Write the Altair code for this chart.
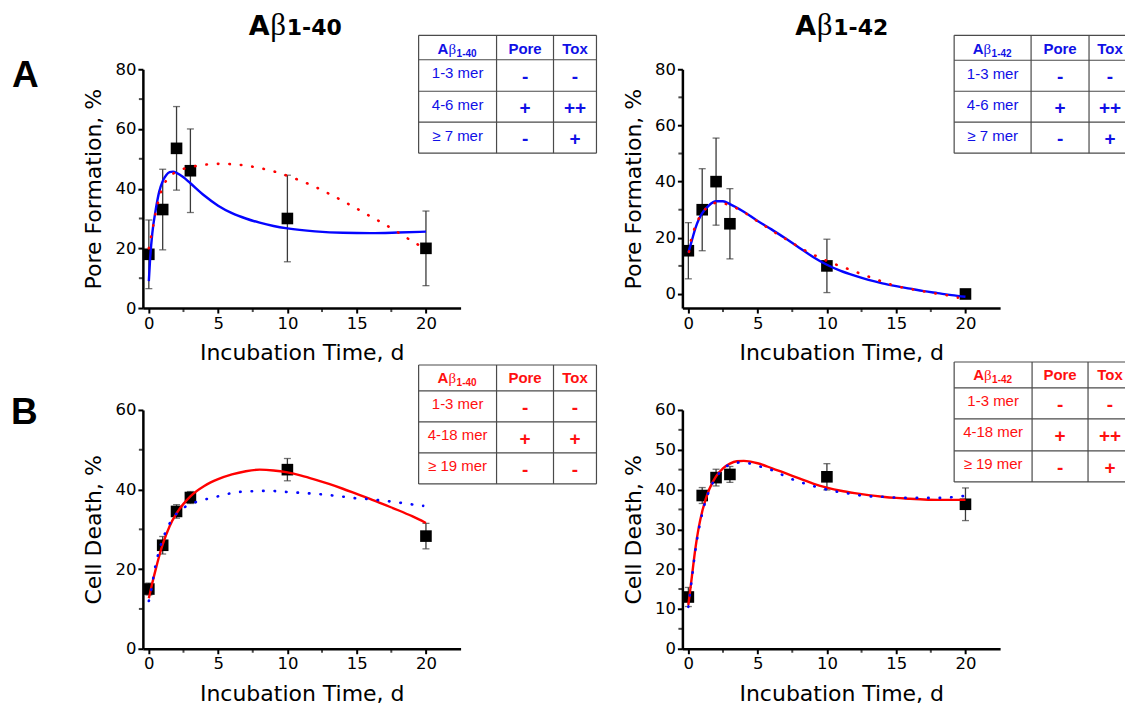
import altair as alt
import pandas as pd

# ---------------- data ----------------
days = [0, 1, 2, 3, 10, 20]

pore40_mean = [18.0, 33.0, 53.5, 46.0, 30.0, 20.0]
pore40_err = [11.5, 13.5, 14.0, 14.0, 14.5, 12.5]
pore42_mean = [15.4, 30.0, 40.0, 25.0, 10.0, 0.0]
pore42_err = [10.0, 14.6, 15.5, 12.5, 9.5, 0.0]
death40_mean = [15.0, 26.0, 34.5, 38.0, 45.0, 28.3]
death40_err = [1.5, 2.2, 1.7, 1.5, 2.8, 3.2]
death42_mean = [13.0, 38.5, 43.0, 43.8, 43.2, 36.3]
death42_err = [2.4, 2.0, 2.1, 2.0, 3.3, 4.1]

pore40_fit_t = [0, 0.1, 0.25, 0.5, 0.75, 1, 1.25, 1.5, 1.75, 2, 2.5, 3, 4, 5, 6, 7, 8, 9, 10, 12, 14, 16, 18, 20]
pore40_fit_y = [9, 17, 25, 33, 39, 42.5, 44.5, 45.5, 45.7, 45.3, 43.8, 41.8, 37.7, 34.3, 31.8, 30, 28.6, 27.5, 26.7, 25.7, 25.2, 25.1, 25.3, 25.6]
pore40_alt_t = [0, 0.25, 0.5, 0.75, 1, 1.5, 2, 3, 4, 5, 6, 7, 8, 9, 10, 11, 12, 13, 14, 15, 16, 17, 18, 19, 19.8]
pore40_alt_y = [20, 26, 32, 37, 40.5, 44, 45.7, 47.2, 48, 48.3, 48.2, 47.7, 46.9, 45.8, 44.3, 42.6, 40.6, 38.3, 35.9, 33.3, 30.7, 28.1, 25.3, 22.4, 20.2]

pore42_fit_t = [0, 0.25, 0.5, 0.75, 1, 1.5, 2, 2.5, 3, 4, 5, 6, 7, 8, 9, 10, 11, 12, 13, 14, 15, 16, 17, 18, 19, 20]
pore42_fit_y = [14.7, 19, 23.3, 26.5, 28.8, 31.6, 33, 33, 32, 29.3, 26, 23, 19.8, 16.5, 13.2, 10.4, 8.2, 6.5, 5, 3.8, 2.8, 1.9, 1.0, 0.3, -0.4, -1.0]
pore42_alt_t = [0.05, 0.18, 0.4, 0.8, 1.4, 2.2, 3.1, 3.95, 4.8, 5.65, 6.5, 7.4, 8.2, 9.1, 9.95, 10.85, 11.7, 12.6, 13.45, 14.3, 15.2, 16, 16.9, 17.8, 18.6, 19.45]
pore42_alt_y = [15, 18.9, 22.7, 27.3, 31, 32.6, 31.3, 29.3, 26.5, 23.8, 21.1, 18.5, 16.1, 13.8, 11.9, 10.1, 8.6, 6.9, 5.4, 3.9, 2.6, 1.8, 1.0, 0.2, -0.4, -1.3]

death40_fit_t = [0, 0.25, 0.5, 0.75, 1, 1.5, 2, 2.5, 3, 4, 5, 6, 7, 8, 9, 10, 11, 12, 13, 14, 15, 16, 17, 18, 19, 20]
death40_fit_y = [12.7, 16.5, 20, 23.3, 26.2, 30.8, 34, 36.4, 38.3, 40.9, 42.6, 43.8, 44.6, 45, 44.8, 44.3, 43.5, 42.5, 41.4, 40.2, 38.9, 37.6, 36.2, 34.8, 33.3, 31.6]
death40_alt_t = [0, 0.2, 0.4, 0.8, 1.2, 1.8, 2.6, 3.5, 4.4, 5.25, 6.1, 6.9, 7.8, 8.65, 9.5, 10.4, 11.3, 12.1, 13, 13.8, 14.65, 15.5, 16.4, 17.2, 18.1, 18.9, 19.8]
death40_alt_y = [12, 15.2, 19.5, 25.3, 29.3, 33.1, 35.6, 37, 37.8, 38.5, 39.2, 39.5, 39.6, 39.7, 39.5, 39.3, 39.1, 38.9, 38.6, 38.3, 37.9, 37.7, 37.4, 37.1, 36.7, 36.3, 35.9]

death42_fit_t = [0, 0.25, 0.5, 0.75, 1, 1.5, 2, 2.5, 3, 3.5, 4, 4.5, 5, 6, 7, 8, 9, 10, 11, 12, 13, 14, 15, 16, 17, 18, 19, 20]
death42_fit_y = [11, 18, 25, 30.5, 34.5, 40, 43.3, 45.3, 46.5, 47.1, 47.2, 47, 46.6, 45.4, 44.1, 42.8, 41.5, 40.5, 39.7, 39.1, 38.6, 38.2, 37.9, 37.7, 37.5, 37.4, 37.4, 37.4]
death42_alt_t = [0, 0.25, 0.5, 1, 1.5, 2, 3, 3.75, 4.5, 5.35, 6.25, 7.05, 7.9, 8.8, 9.65, 10.5, 11.4, 12.25, 13.1, 14, 14.85, 15.7, 16.5, 17.4, 18.25, 19.1, 19.95]
death42_alt_y = [10.5, 17.5, 24.5, 34, 39.7, 43, 46.3, 46.8, 46.5, 45.6, 44.6, 43.2, 42.1, 41.1, 40.3, 39.6, 39.1, 38.6, 38.3, 38.2, 38, 37.9, 37.9, 37.9, 37.9, 38.1, 38.4]

x_major = [0, 5, 10, 15, 20]
x_minor = [2.5, 7.5, 12.5, 17.5]

col_heads = ["Pore", "Tox"]
rows_pore = ["1-3 mer", "4-6 mer", "\u2265 7 mer"]
rows_tox = ["1-3 mer", "4-18 mer", "\u2265 19 mer"]
syms_pore40_pore = ["-", "+", "-"]
syms_pore40_tox = ["-", "++", "+"]
syms_pore42_pore = ["-", "+", "-"]
syms_pore42_tox = ["-", "++", "+"]
syms_death40_pore = ["-", "+", "-"]
syms_death40_tox = ["-", "+", "-"]
syms_death42_pore = ["-", "+", "-"]
syms_death42_tox = ["-", "++", "+"]

# ---------------- style / layout ----------------
SANS = "Liberation Sans"
WIDE = "DejaVu Sans"
SERIF = "Liberation Serif"
TXT_BLUE = "#1010e6"
TXT_RED = "#ff1010"
LINE_BLUE = "#0505ff"
LINE_RED = "#ff0000"
GRID = "#4a4a4a"
ERR = "#3a3a3a"
W, H = 318, 239
X_DOMAIN = [-0.43, 22.5]


def one():
    return pd.DataFrame({"k": [0]})


def text_layer(df, size, weight, color, font=SANS, align="center"):
    return alt.Chart(df).mark_text(
        font=font, fontSize=size, fontWeight=weight, color=color,
        align=align, baseline="alphabetic"
    ).encode(
        x=alt.X("px:Q", scale=None),
        y=alt.Y("py:Q", scale=None),
        text="s:N",
    )


def table(xe, ye, tox_c, closed, color, sub, row_labels, pore_syms, tox_syms):
    x0, x1, x2, x3 = xe
    hl = pd.DataFrame({"a": [x0] * len(ye), "b": [x3] * len(ye), "y": ye})
    vx = [x0, x1, x2] + ([x3] if closed else [])
    vl = pd.DataFrame({"x": vx, "t": [ye[0]] * len(vx), "b": [ye[-1]] * len(vx)})
    hr = alt.Chart(hl).mark_rule(color=GRID, strokeWidth=1.2).encode(
        x=alt.X("a:Q", scale=None), x2="b:Q", y=alt.Y("y:Q", scale=None))
    vr = alt.Chart(vl).mark_rule(color=GRID, strokeWidth=1.2).encode(
        x=alt.X("x:Q", scale=None), y=alt.Y("t:Q", scale=None), y2="b:Q")
    c0, c1, c2 = (x0 + x1) / 2, (x1 + x2) / 2, tox_c
    hb = ye[0] + 18.5
    heads = pd.DataFrame({"px": [c1, c2], "py": [hb, hb], "s": col_heads})
    start = c0 - 20
    hA = pd.DataFrame({"px": [start], "py": [hb], "s": ["A"]})
    hB = pd.DataFrame({"px": [start + 10.8], "py": [hb], "s": ["\u03b2"]})
    hS = pd.DataFrame({"px": [start + 19], "py": [hb + 3], "s": [sub]})
    rl = pd.DataFrame({"px": [c0] * 3, "py": [ye[i] + 18.5 for i in range(1, 4)], "s": row_labels})
    sy = pd.DataFrame({
        "px": [c1] * 3 + [c2] * 3,
        "py": [(ye[i] + ye[i + 1]) / 2 + 7.5 for i in range(1, 4)] * 2,
        "s": pore_syms + tox_syms,
    })
    return [
        hr, vr,
        text_layer(heads, 15, "bold", color),
        text_layer(hA, 15, "bold", color, align="left"),
        text_layer(hB, 15, "normal", color, font=SERIF, align="left"),
        text_layer(hS, 10, "bold", color, align="left"),
        text_layer(rl, 15, "normal", color),
        text_layer(sy, 19, "bold", color),
    ]


def panel(mean, err, fit_t, fit_y, fit_c, alt_t, alt_y, alt_c, y_title, y_dom,
          y_major, y_minor, tbl, title=None, letter=None, marker=False):
    xs = alt.Scale(domain=X_DOMAIN, nice=False, zero=False)
    ys = alt.Scale(domain=y_dom, nice=False, zero=False)

    def X(f):
        return alt.X(f, scale=xs, axis=alt.Axis(values=x_major, title="Incubation Time, d", format="d"))

    def Y(f):
        return alt.Y(f, scale=ys, axis=alt.Axis(values=y_major, title=y_title, format="d"))

    pts = pd.DataFrame({
        "t": days, "m": mean,
        "lo": [m - e for m, e in zip(mean, err)],
        "hi": [m + e for m, e in zip(mean, err)],
    })
    base = alt.Chart(pts)
    bars = base.mark_rule(color=ERR, strokeWidth=1.3).encode(x=X("t:Q"), y=Y("lo:Q"), y2="hi:Q")
    cap_lo = base.mark_tick(orient="horizontal", size=7, thickness=1.3, color=ERR).encode(
        x=X("t:Q"), y=Y("lo:Q"))
    cap_hi = base.mark_tick(orient="horizontal", size=7, thickness=1.3, color=ERR).encode(
        x=X("t:Q"), y=Y("hi:Q"))
    sq = base.mark_square(size=135, color="black", opacity=1).encode(x=X("t:Q"), y=Y("m:Q"))
    fit = alt.Chart(pd.DataFrame({"t": fit_t, "v": fit_y})).mark_line(
        color=fit_c, strokeWidth=2.4, interpolate="monotone").encode(x=X("t:Q"), y=Y("v:Q"))
    dots = alt.Chart(pd.DataFrame({"t": alt_t, "v": alt_y})).mark_line(
        color=alt_c, strokeWidth=2.6, strokeDash=[0.5, 11], strokeCap="round",
        interpolate="monotone").encode(x=X("t:Q"), y=Y("v:Q"))
    mx = alt.Chart(pd.DataFrame({"v": x_minor})).mark_tick(
        orient="vertical", size=4, thickness=2, color="black").encode(
        x=X("v:Q"), y=alt.value(H + 2))
    my = alt.Chart(pd.DataFrame({"v": y_minor})).mark_tick(
        orient="horizontal", size=4, thickness=2, color="black").encode(
        x=alt.value(-2), y=Y("v:Q"))
    layers = [bars, cap_lo, cap_hi, sq, fit, dots, mx, my] + tbl
    if title is not None:
        tx, ty, sub = title
        layers += [
            alt.Chart(one()).mark_text(text="A", font=WIDE, fontSize=27, fontWeight="bold",
                                       align="left", baseline="alphabetic", color="black"
                                       ).encode(x=alt.value(tx), y=alt.value(ty)),
            alt.Chart(one()).mark_text(text="\u03b2", font=SERIF, fontSize=31,
                                       align="left", baseline="alphabetic", color="black"
                                       ).encode(x=alt.value(tx + 21.5), y=alt.value(ty)),
            alt.Chart(one()).mark_text(text=sub, font=WIDE, fontSize=22, fontWeight="bold",
                                       align="left", baseline="alphabetic", color="black"
                                       ).encode(x=alt.value(tx + 38), y=alt.value(ty)),
        ]
    if letter is not None:
        s, lx, ly = letter
        layers.append(
            alt.Chart(one()).mark_text(text=s, font=SANS, fontSize=37, fontWeight="bold",
                                       align="left", baseline="alphabetic", color="black"
                                       ).encode(x=alt.value(lx), y=alt.value(ly)))
    if marker:
        layers.append(
            alt.Chart(one()).mark_rule(opacity=0).encode(
                x=alt.value(-143), x2=alt.value(-142), y=alt.value(-69), y2=alt.value(-69)))
    return alt.layer(*layers).properties(width=W, height=H)


TL = panel(pore40_mean, pore40_err, pore40_fit_t, pore40_fit_y, LINE_BLUE,
           pore40_alt_t, pore40_alt_y, LINE_RED, "Pore Formation, %", [0, 80],
           [0, 20, 40, 60, 80], [10, 30, 50, 70],
           table([276, 354, 411, 454], [-34, -9.5, 22, 53, 84], 432.5, True, TXT_BLUE,
                 "1-40", rows_pore, syms_pore40_pore, syms_pore40_tox),
           title=(106, -34, "1-40"), letter=("A", -131, 18), marker=True)
TR = panel(pore42_mean, pore42_err, pore42_fit_t, pore42_fit_y, LINE_BLUE,
           pore42_alt_t, pore42_alt_y, LINE_RED, "Pore Formation, %", [-5, 80],
           [0, 20, 40, 60, 80], [10, 30, 50, 70],
           table([272, 349, 407, 443], [-34, -9, 22, 53, 84], 428, False, TXT_BLUE,
                 "1-42", rows_pore, syms_pore42_pore, syms_pore42_tox),
           title=(113, -34, "1-42"))
BL = panel(death40_mean, death40_err, death40_fit_t, death40_fit_y, LINE_RED,
           death40_alt_t, death40_alt_y, LINE_BLUE, "Cell Death, %", [0, 60],
           [0, 20, 40, 60], [10, 30, 50],
           table([276, 354, 411, 454], [-45, -19, 12, 43, 74], 432.5, True, TXT_RED,
                 "1-40", rows_tox, syms_death40_pore, syms_death40_tox),
           letter=("B", -132, 14))
BR = panel(death42_mean, death42_err, death42_fit_t, death42_fit_y, LINE_RED,
           death42_alt_t, death42_alt_y, LINE_BLUE, "Cell Death, %", [0, 60],
           [0, 10, 20, 30, 40, 50, 60], [5, 15, 25, 35, 45, 55],
           table([272, 350, 406, 443], [-48, -22, 9, 41, 72], 428, False, TXT_RED,
                 "1-42", rows_tox, syms_death42_pore, syms_death42_tox))

chart = alt.concat(
    TL, TR, BL, BR, columns=2, spacing={"row": 102, "column": 222}, bounds="flush"
).properties(padding=0).configure_view(stroke=None).configure_axis(
    grid=False, domainColor="black", domainWidth=2.5, tickColor="black", tickWidth=2,
    tickSize=5, labelFont=WIDE, labelFontSize=16.5, labelColor="black", labelPadding=2,
    titleFont=WIDE, titleFontSize=22, titleFontWeight="normal", titleColor="black",
    labelOverlap=False, labelFlush=False,
).configure_axisX(titlePadding=11).configure_axisY(titlePadding=9)

chart.save("out.html", embed_options={"renderer": "svg", "actions": False})
